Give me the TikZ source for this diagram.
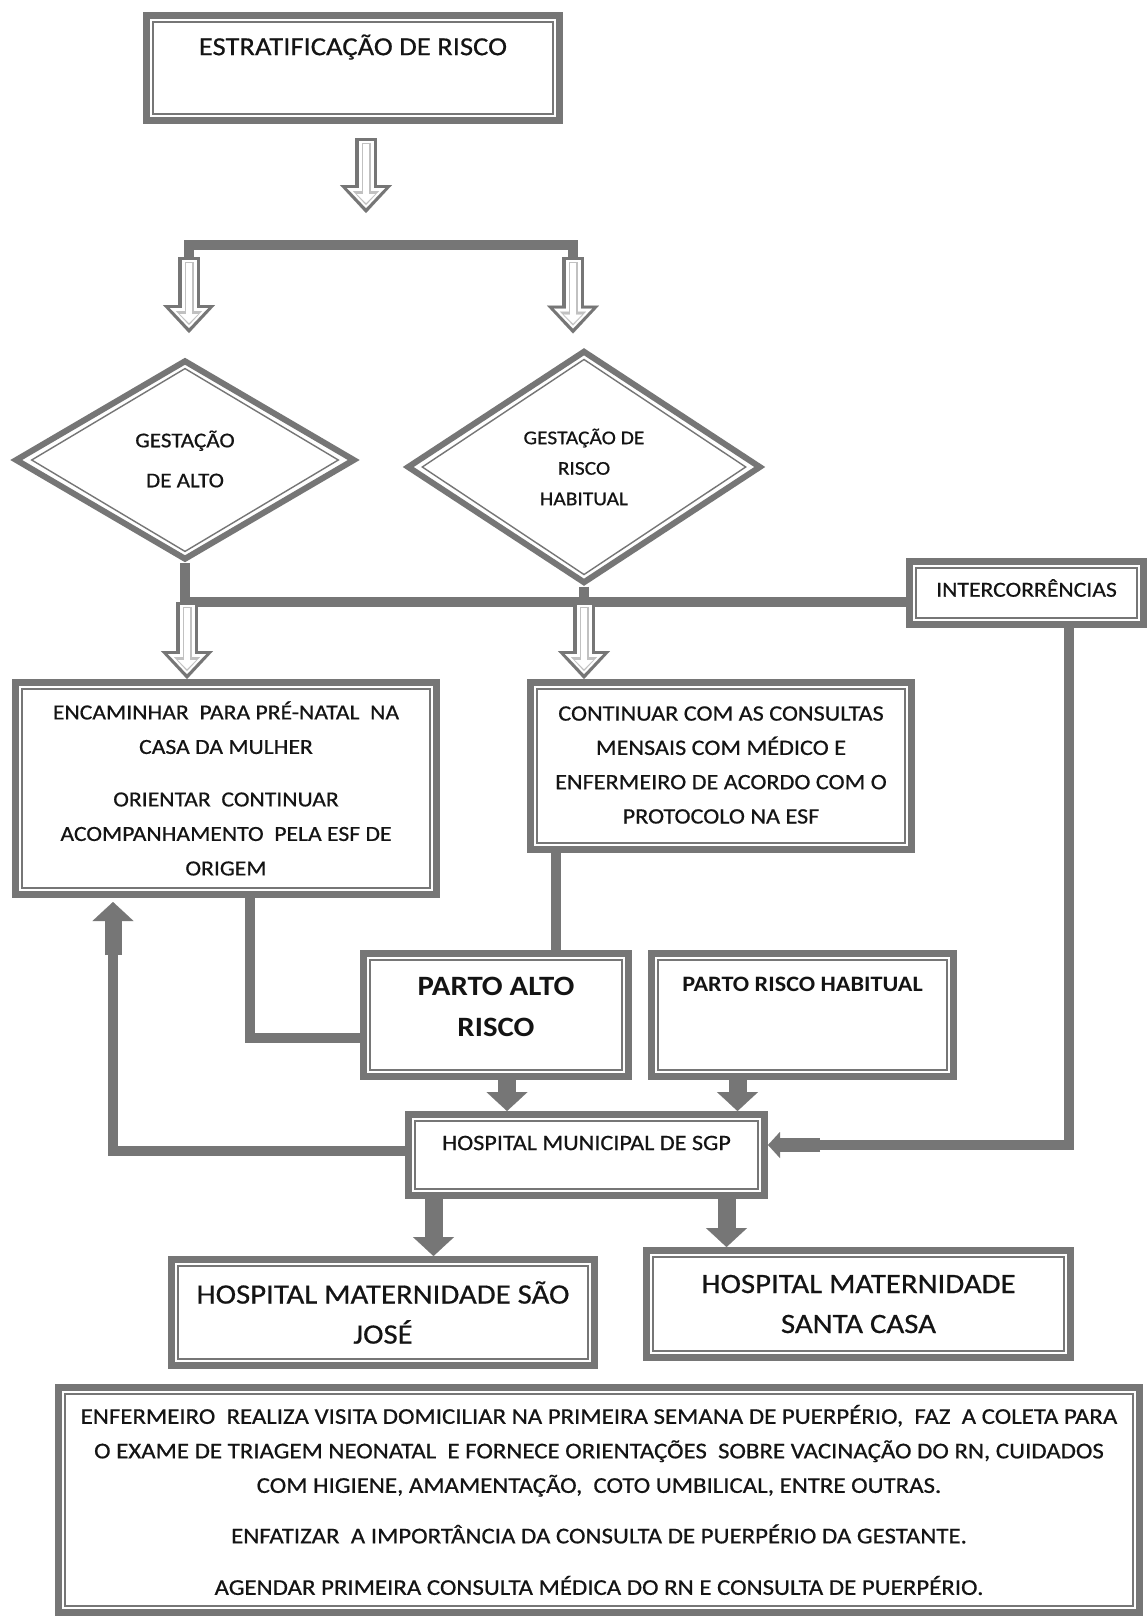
\documentclass[tikz,border=0pt]{standalone}
\usepackage{fontspec}
\setmainfont{Carlito}[FakeStretch=1.1, UprightFeatures={FakeBold=0.6}]
\usetikzlibrary{shapes.geometric,arrows.meta}
\definecolor{linegray}{RGB}{118,118,118}
\definecolor{textc}{RGB}{20,20,20}
\newcommand{\fsz}[2]{\fontsize{#1}{#2}\selectfont}

\begin{document}
\begin{tikzpicture}[x=1pt,y=-1pt]
\tikzstyle{box}=[rectangle, draw=linegray, line width=7pt, fill=white, text=textc, align=center, inner sep=0pt]
\tikzstyle{dia}=[diamond, draw=linegray, line width=6pt, fill=white, text=textc, align=center, inner sep=0pt]
\tikzstyle{frame}=[draw=linegray, line width=1.4pt]
\tikzstyle{link}=[draw=linegray, line width=10pt]
\tikzstyle{fatarrow}=[draw=linegray, line width=18pt, -{Triangle[width=41pt,length=19pt,line width=0.1pt]}]
\tikzstyle{hollowarrow}=[draw=linegray, line width=22pt, -{Triangle[width=52pt,length=28pt,line width=0.1pt]},
  postaction={draw=white, line width=15pt, shorten <=3pt, shorten >=5pt, -{Triangle[width=38pt,length=20pt,line width=0.1pt]}},
  postaction={draw=linegray!45, line width=9pt, shorten <=5pt, shorten >=8pt, -{Triangle[width=26pt,length=14pt,line width=0.1pt]}},
  postaction={draw=white, line width=6pt, shorten <=6pt, shorten >=10pt, -{Triangle[width=18pt,length=9pt,line width=0.1pt]}}]

\fill[white] (0,0) rectangle (1148,1617);
\useasboundingbox (0,0) rectangle (1148,1617);

% boxes
\node[box, minimum width=413pt, minimum height=105pt, label={[text=textc, font=\fsz{26}{30}, yshift=21pt]center:ESTRATIFICAÇÃO DE RISCO}] (strat) at (353,68) {};
\node[box, minimum width=234pt, minimum height=63pt, label={[text=textc, font=\fsz{21.5}{26}, yshift=5pt]center:INTERCORRÊNCIAS}] (inter) at (1026.5,593) {};
\node[dia, minimum width=340pt, minimum height=200pt, label={[text=textc, align=center, font=\fsz{21}{40}, yshift=1pt]center:GESTAÇÃO\\DE ALTO}] (galto) at (185,460) {};
\node[dia, minimum width=354pt, minimum height=233pt, font=\fsz{19.5}{30.5}] (ghab) at (584,467) {GESTAÇÃO DE\\RISCO\\HABITUAL};
\node[box, minimum width=421pt, minimum height=212pt, font=\fsz{21.5}{34.5}] (enc) at (226,788.5) {ENCAMINHAR~ PARA PRÉ-NATAL~ NA\\CASA DA MULHER\\[18pt]ORIENTAR~ CONTINUAR\\ACOMPANHAMENTO~ PELA ESF DE\\ORIGEM};
\node[box, minimum width=381pt, minimum height=167pt, label={[text=textc, align=center, font=\fsz{22}{34.3}, yshift=1pt]center:CONTINUAR COM AS CONSULTAS\\MENSAIS COM MÉDICO E\\ENFERMEIRO DE ACORDO COM O\\PROTOCOLO NA ESF}] (cont) at (721,766) {};
\node[box, minimum width=265pt, minimum height=123pt, label={[text=textc, align=center, font=\bfseries\fsz{28}{41}, yshift=8.5pt]center:PARTO ALTO\\RISCO}] (palto) at (496,1015) {};
\node[box, minimum width=302pt, minimum height=123pt, label={[text=textc, font=\bfseries\fsz{22}{26}, yshift=31pt]center:PARTO RISCO HABITUAL}] (phab) at (802.5,1015) {};
\node[box, minimum width=356pt, minimum height=81pt, label={[text=textc, font=\fsz{22}{26}, yshift=12pt]center:HOSPITAL MUNICIPAL DE SGP}] (hosp) at (586.5,1155) {};
\node[box, minimum width=423pt, minimum height=106pt, font=\fsz{28}{40}] (hsj) at (383,1312.5) {HOSPITAL MATERNIDADE SÃO\\JOSÉ};
\node[box, minimum width=424pt, minimum height=107pt, font=\fsz{28}{40}] (hsc) at (858.5,1304) {HOSPITAL MATERNIDADE\\SANTA CASA};
\node[box, minimum width=1081pt, minimum height=225pt, font=\fsz{22.6}{34.5}] (orient) at (599,1500) {ENFERMEIRO~ REALIZA VISITA DOMICILIAR NA PRIMEIRA SEMANA DE PUERPÉRIO,~ FAZ~ A COLETA PARA\\O EXAME DE TRIAGEM NEONATAL~ E FORNECE ORIENTAÇÕES~ SOBRE VACINAÇÃO DO RN, CUIDADOS\\COM HIGIENE, AMAMENTAÇÃO,~ COTO UMBILICAL, ENTRE OUTRAS.\\[16pt]ENFATIZAR~ A IMPORTÂNCIA DA CONSULTA DE PUERPÉRIO DA GESTANTE.\\[17pt]AGENDAR PRIMEIRA CONSULTA MÉDICA DO RN E CONSULTA DE PUERPÉRIO.};

% inner lines
\foreach \n in {strat,inter,enc,cont,palto,phab,hosp,hsj,hsc,orient}
  \draw[frame] ([shift={(10,10)}]\n.north west) rectangle ([shift={(-10,-10)}]\n.south east);
\draw[frame] ([yshift=-11.6pt]galto.north) -- ([xshift=-19.7pt]galto.east) -- ([yshift=11.6pt]galto.south) -- ([xshift=19.7pt]galto.west) -- cycle;
\draw[frame] ([yshift=-12pt]ghab.north) -- ([xshift=-18.3pt]ghab.east) -- ([yshift=12pt]ghab.south) -- ([xshift=18.3pt]ghab.west) -- cycle;

% first split
\coordinate (brL) at (189,257);
\coordinate (brR) at (573,257);
\draw[hollowarrow] ([shift={(13,14)}]strat.south) -- ++(0,75);
\draw[link] (brL) -- ++(0,-12) -| (brR);
\draw[hollowarrow] (brL) -- ([yshift=24pt]galto.north -| brL);
\draw[hollowarrow] (brR) -- ([yshift=14pt]ghab.north -| brR);

% second split
\coordinate (j2) at (185,602);
\draw[link] (galto.south) -- (j2) -- (j2 -| inter.west);
\draw[link] (ghab.south) -- (ghab.south |- j2);
\draw[hollowarrow] ([xshift=2pt]j2) -- ([xshift=2pt]j2 |- enc.north);
\draw[hollowarrow] (ghab.south |- j2) -- (ghab.south |- cont.north);

% towards delivery
\draw[link] ([xshift=24pt]enc.south) |- ([yshift=-23pt]palto.west);
\draw[link] ([xshift=60pt]palto.north) -- ([xshift=60pt]palto.north |- cont.south);
\draw[fatarrow] ([xshift=11pt]palto.south) -- ([xshift=11pt]palto.south |- hosp.north);
\draw[fatarrow] ([xshift=-65pt]phab.south) -- ([xshift=-65pt]phab.south |- hosp.north);

% return loops
\coordinate (loopc) at (113,955);
\draw[link] ([yshift=4pt]hosp.west) -| (loopc);
\draw[fatarrow, line width=17pt] (loopc) -- ([yshift=-4pt]enc.south -| loopc);
\coordinate (cin) at (820,1145);
\draw[link] ([xshift=42pt]inter.south) |- (cin);
\draw[draw=linegray, line width=14pt, -{Triangle[width=26pt,length=12pt,line width=0.1pt]}] (cin) -- (cin -| hosp.east);

% maternities
\draw[fatarrow] ([xshift=-153pt]hosp.south) -- ([xshift=-153pt]hosp.south |- hsj.north);
\draw[fatarrow] ([xshift=140pt]hosp.south) -- ([xshift=140pt]hosp.south |- hsc.north);

\end{tikzpicture}
\end{document}
